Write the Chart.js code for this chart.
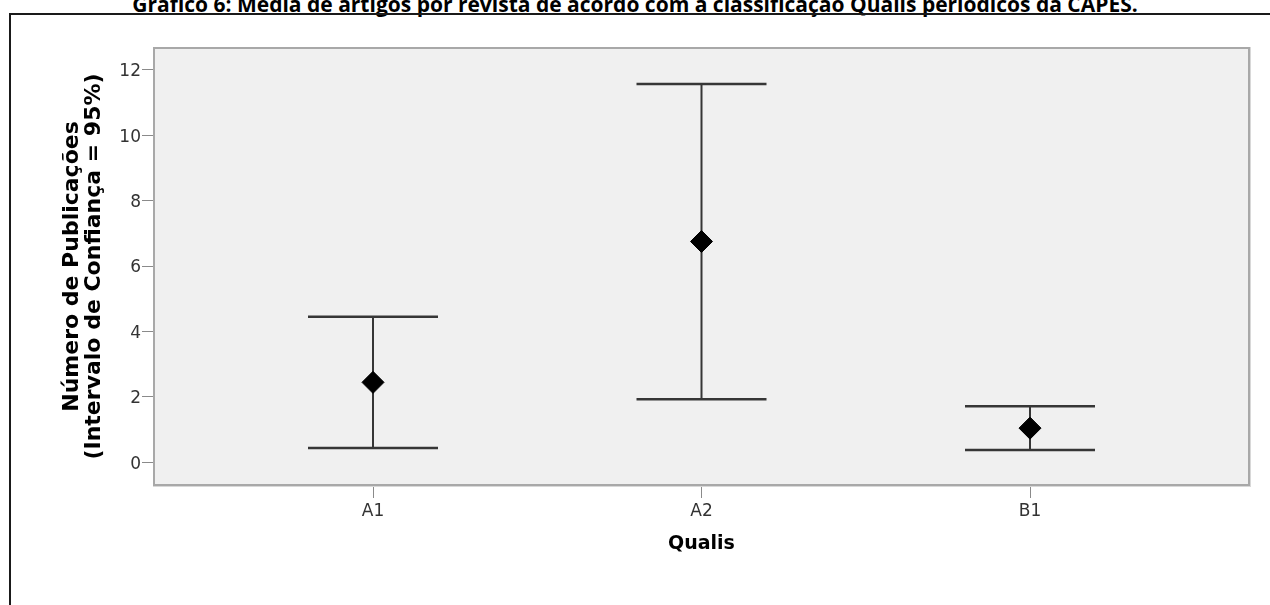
<!DOCTYPE html>
<html lang="pt">
<head>
    <meta charset="UTF-8">
    <title>Gráfico 6</title>
    <script src="https://cdn.jsdelivr.net/npm/chart.js"></script>
    <style>
        body {
            margin: 0;
            padding: 0;
            width: 1270px;
            height: 605px;
            overflow: hidden;
            background: #ffffff;
            position: relative;
            font-family: "DejaVu Sans", sans-serif;
        }
        #titulo {
            position: absolute;
            left: 0;
            width: 1270px;
            top: -9px;
            text-align: center;
            font-family: "Open Sans", sans-serif;
            font-weight: bold;
            font-size: 21px;
            line-height: 26px;
            color: #000;
            white-space: nowrap;
        }
        #moldura {
            position: absolute;
            left: 9px;
            top: 13px;
            width: 1300px;
            height: 700px;
            border: 2px solid #1a1a1a;
            box-sizing: border-box;
        }
        canvas {
            position: absolute;
            left: 0;
            top: 0;
        }
    </style>
</head>
<body>
    <div id="titulo">Gráfico 6: Média de artigos por revista de acordo com a classificação Qualis periódicos da CAPES.</div>
    <div id="moldura"></div>
    <canvas id="myChart" width="1270" height="605"></canvas>

    <script>
        // Dados
        var categorias = ['A1', 'A2', 'B1'];
        var medias = [2.44, 6.75, 1.04];
        var limiteInferior = [0.43, 1.92, 0.37];
        var limiteSuperior = [4.45, 11.57, 1.71];
        var ticksY = [0, 2, 4, 6, 8, 10, 12];

        var corBarra = '#363636';

        // hastes verticais (um segmento por categoria, separados por null)
        var hastes = [];
        categorias.forEach(function (c, i) {
            hastes.push({ x: i, y: limiteInferior[i] });
            hastes.push({ x: i, y: limiteSuperior[i] });
            hastes.push({ x: i, y: null });
        });

        // fundo e borda da área do gráfico
        var fundoPlot = {
            id: 'fundoPlot',
            beforeDraw: function (chart) {
                var a = chart.chartArea;
                var ctx = chart.ctx;
                ctx.save();
                ctx.fillStyle = '#f0f0f0';
                ctx.fillRect(a.left, a.top, a.right - a.left, a.bottom - a.top);
                ctx.restore();
            },
            afterDraw: function (chart) {
                var a = chart.chartArea;
                var ctx = chart.ctx;
                ctx.save();
                ctx.strokeStyle = '#d8d8d8';
                ctx.lineWidth = 1;
                ctx.strokeRect(a.left - 0.5, a.top - 0.5, a.right - a.left + 2, a.bottom - a.top + 2);
                ctx.strokeStyle = '#a8a8a8';
                ctx.lineWidth = 2;
                ctx.strokeRect(a.left, a.top, a.right - a.left, a.bottom - a.top);
                ctx.restore();
            }
        };

        var ctx = document.getElementById('myChart').getContext('2d');
        var myChart = new Chart(ctx, {
            type: 'scatter',
            data: {
                datasets: [{
                    label: 'Média',
                    data: categorias.map(function (c, i) { return { x: i, y: medias[i] }; }),
                    pointStyle: 'rectRot',
                    pointRadius: 11,
                    backgroundColor: '#000000',
                    borderColor: '#000000',
                    borderWidth: 1
                }, {
                    label: 'Superior',
                    data: categorias.map(function (c, i) { return { x: i, y: limiteSuperior[i] }; }),
                    pointStyle: 'line',
                    pointRadius: 65,
                    borderColor: corBarra,
                    borderWidth: 2.5
                }, {
                    label: 'Inferior',
                    data: categorias.map(function (c, i) { return { x: i, y: limiteInferior[i] }; }),
                    pointStyle: 'line',
                    pointRadius: 65,
                    borderColor: corBarra,
                    borderWidth: 2.5
                }, {
                    type: 'line',
                    label: 'IC',
                    data: hastes,
                    borderColor: corBarra,
                    borderWidth: 2,
                    pointRadius: 0,
                    spanGaps: false
                }]
            },
            options: {
                responsive: false,
                animation: false,
                events: [],
                layout: {
                    autoPadding: false,
                    padding: { top: 48, right: 21, left: 0, bottom: 0 }
                },
                plugins: {
                    legend: { display: false },
                    tooltip: { enabled: false }
                },
                scales: {
                    x: {
                        type: 'linear',
                        min: -2 / 3,
                        max: 2 + 2 / 3,
                        afterFit: function (s) { s.height = 120; s.paddingLeft = 0; s.paddingRight = 0; },
                        afterBuildTicks: function (s) {
                            s.ticks = categorias.map(function (c, i) { return { value: i }; });
                        },
                        border: { display: false },
                        grid: {
                            drawOnChartArea: false,
                            drawTicks: true,
                            tickLength: 13,
                            color: '#8a8a8a',
                            lineWidth: 1
                        },
                        ticks: {
                            padding: 3,
                            color: '#333333',
                            font: { family: 'DejaVu Sans', size: 17 },
                            callback: function (v) { return categorias[v]; }
                        },
                        title: {
                            display: true,
                            text: 'Qualis',
                            color: '#000000',
                            font: { family: 'DejaVu Sans', size: 19, weight: 'bold' },
                            padding: { top: 0, bottom: 50 }
                        }
                    },
                    y: {
                        min: -0.7,
                        max: 12.67,
                        afterFit: function (s) { s.width = 154; s.paddingTop = 0; s.paddingBottom = 0; },
                        afterBuildTicks: function (s) {
                            s.ticks = ticksY.map(function (v) { return { value: v }; });
                        },
                        border: { display: false },
                        grid: {
                            drawOnChartArea: false,
                            drawTicks: true,
                            tickLength: 12,
                            color: '#8a8a8a',
                            lineWidth: 1
                        },
                        ticks: {
                            padding: 1,
                            labelOffset: 2,
                            color: '#333333',
                            font: { family: 'DejaVu Sans', size: 17 }
                        },
                        title: {
                            display: true,
                            text: ['Número de Publicações', '(Intervalo de Confiança = 95%)'],
                            color: '#000000',
                            font: { family: 'DejaVu Sans', size: 22, weight: 'bold', lineHeight: '22px' },
                            padding: { top: 61, bottom: 0 }
                        }
                    }
                }
            },
            plugins: [fundoPlot]
        });
    </script>
</body>
</html>
